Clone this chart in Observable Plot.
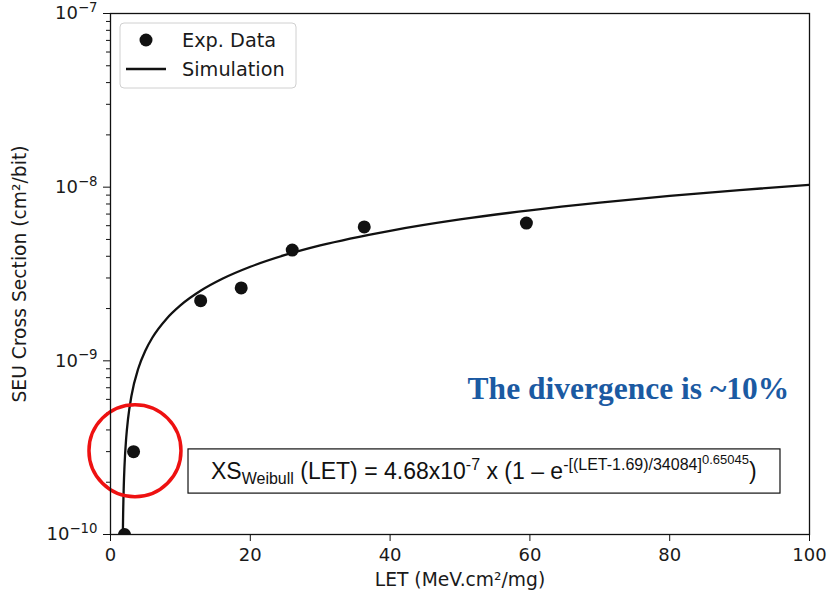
<!DOCTYPE html>
<html><head><meta charset="utf-8">
<script src="https://cdn.jsdelivr.net/npm/d3@7"></script>
<script src="https://cdn.jsdelivr.net/npm/@observablehq/plot@0.6"></script>
<style>body{margin:0;background:#fff} svg{display:block}</style>
</head><body><div id="chart"></div>
<script>
const expLET = [2.0, 3.3, 12.9, 18.7, 26.0, 36.3, 59.5];
const expXS  = [1.0e-10, 3.0e-10, 2.22e-9, 2.63e-9, 4.34e-9, 5.9e-9, 6.21e-9];
// Simulation curve
const simLET = [1.75, 1.77, 1.8, 1.9, 2.0, 2.25, 2.5, 3, 4, 5, 6, 8, 10, 13, 16, 20, 25, 30, 40, 50, 60, 70, 80, 90, 100];
const simXS  = [8.46e-11, 1.02e-10, 1.254e-10, 1.91e-10, 2.46e-10, 3.62e-10, 4.60e-10, 6.29e-10, 9.09e-10, 1.148e-9, 1.363e-9, 1.744e-9, 2.085e-9, 2.547e-9, 2.967e-9, 3.48e-9, 4.07e-9, 4.62e-9, 5.61e-9, 6.52e-9, 7.36e-9, 8.15e-9, 8.91e-9, 9.62e-9, 1.031e-8];
// Ticks
const xTicks = [0, 20, 40, 60, 80, 100];
const yMajor = [1e-10, 1e-9, 1e-8, 1e-7];
const yTickLabels = ["10^\u221210", "10^\u22129", "10^\u22128", "10^\u22127"];
const yMinor = [2e-10,3e-10,4e-10,5e-10,6e-10,7e-10,8e-10,9e-10,
                2e-9,3e-9,4e-9,5e-9,6e-9,7e-9,8e-9,9e-9,
                2e-8,3e-8,4e-8,5e-8,6e-8,7e-8,8e-8,9e-8];
// Texts
const legendLabels = ["Exp. Data", "Simulation"];
const xLabel = "LET (MeV.cm\u00b2/mg)";
const yLabel = "SEU Cross Section (cm\u00b2/bit)";
const noteText = "The divergence is ~10%";
// Annotation anchors (data coordinates)
const circleLET = [3.5], circleXS = [3.04e-10];
const noteLET = [74.1], noteXS = [6.93e-10];
const eqBox = {x1: 11.16, x2: 95.85, y1: 1.72e-10, y2: 3.09e-10};

const expData = expLET.map((x, i) => ({x, y: expXS[i]}));
const simData = simLET.map((x, i) => ({x, y: simXS[i]}));

const chart = Plot.plot({
  width: 827, height: 597,
  marginLeft: 110, marginRight: 18, marginTop: 13, marginBottom: 63,
  style: {fontFamily: "DejaVu Sans", fontSize: "18px", color: "#1a1a1a", background: "white"},
  x: {domain: [0, 100]},
  y: {type: "log", domain: [1e-10, 1e-7]},
  marks: [
    Plot.axisX({ticks: xTicks, tickSize: 7, tickPadding: 7, label: null, tickFormat: d => String(d), stroke: "#111"}),
    Plot.axisY({ticks: yMajor, tickSize: 7, tickPadding: 6, label: null, tickFormat: d => yTickLabels[yMajor.indexOf(d)], stroke: "#111"}),
    Plot.axisY({ticks: yMinor, tickSize: 4, label: null, tickFormat: () => "", stroke: "#111"}),
    Plot.rect([eqBox], {x1: "x1", x2: "x2", y1: "y1", y2: "y2", fill: "white", stroke: "#111", strokeWidth: 1.2}),
    Plot.line(simData, {x: "x", y: "y", stroke: "#111", strokeWidth: 2.3, curve: "monotone-x", clip: true}),
    Plot.dot(expData, {x: "x", y: "y", r: 6.5, fill: "#111", clip: true}),
    Plot.dot(circleLET.map((x, i) => ({x, y: circleXS[i]})), {x: "x", y: "y", r: 46, stroke: "#ee1111", strokeWidth: 3.5, fill: "none"}),
    Plot.text(noteLET.map((x, i) => ({x, y: noteXS[i]})), {x: "x", y: "y", text: () => noteText, fontFamily: "Liberation Serif", fontWeight: "bold", fontSize: 31.5, fill: "#1b5aa2", textAnchor: "middle", lineAnchor: "middle"}),
    Plot.frame({stroke: "#111", strokeWidth: 1.3}),
    Plot.text([xLabel], {frameAnchor: "bottom", text: d => d, dy: 46, fontSize: 18.7, textAnchor: "middle", lineAnchor: "middle"}),
    Plot.text([yLabel], {frameAnchor: "left", text: d => d, dx: -90, rotate: -90, fontSize: 18.7, textAnchor: "middle", lineAnchor: "middle"})
  ]
});
document.getElementById("chart").append(chart);

const svg = d3.select(chart);
// superscripts for log tick labels
svg.selectAll("text").each(function () {
  const t = this.textContent;
  if (t.includes("^")) {
    const [b, e] = t.split("^");
    const s = d3.select(this);
    s.text(b);
    s.append("tspan").attr("dy", "-0.55em").attr("font-size", "0.74em").text(e);
  }
});

const sx = chart.scale("x"), sy = chart.scale("y");
// equation text inside box
const ex = sx.apply(eqBox.x1) + 23;
const ey = (sy.apply(eqBox.y1) + sy.apply(eqBox.y2)) / 2 + 8;
const eq = svg.append("text").attr("x", ex).attr("y", ey).attr("text-anchor", "start")
  .attr("font-family", "Liberation Sans, Arial, sans-serif").attr("font-size", 23).attr("fill", "#111");
eq.append("tspan").text("XS");
eq.append("tspan").attr("font-size", 16).attr("dy", 5).text("Weibull");
eq.append("tspan").attr("dy", -5).text(" (LET) = 4.68x10");
eq.append("tspan").attr("font-size", 16).attr("dy", -9).text("-7");
eq.append("tspan").attr("dy", 9).text(" x (1 \u2013 e");
eq.append("tspan").attr("font-size", 16).attr("dy", -9).text("-[(LET-1.69)/34084]");
eq.append("tspan").attr("font-size", 13).attr("dy", -6).text("0.65045");
eq.append("tspan").attr("dy", 15).text(")");

// legend
const lg = svg.append("g").attr("text-anchor", "start");
lg.append("rect").attr("x", 120).attr("y", 23).attr("width", 176).attr("height", 65).attr("rx", 4)
  .attr("fill", "white").attr("fill-opacity", 0.85).attr("stroke", "#d0d0d0");
lg.append("circle").attr("cx", 146).attr("cy", 40).attr("r", 6.5).attr("fill", "#111");
lg.append("line").attr("x1", 126).attr("x2", 166).attr("y1", 69).attr("y2", 69).attr("stroke", "#111").attr("stroke-width", 2.3);
legendLabels.forEach((l, i) => {
  lg.append("text").attr("x", 182).attr("y", i ? 69 : 40).attr("dy", "0.35em").attr("text-anchor", "start")
    .attr("font-size", 19.3).attr("fill", "#1a1a1a").text(l);
});
</script>
</body></html>
